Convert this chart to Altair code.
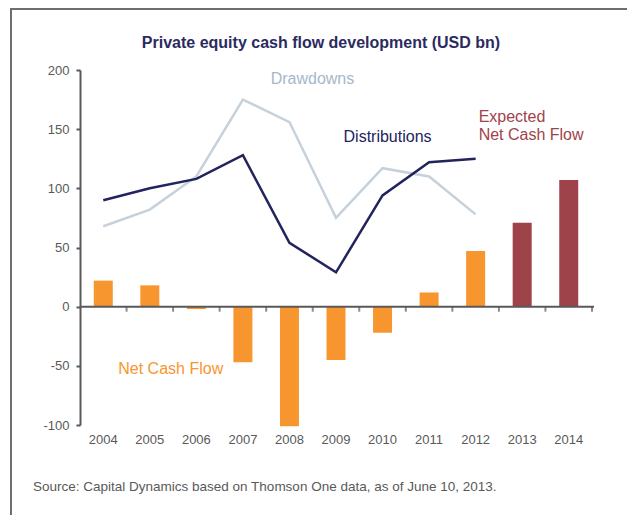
import altair as alt
import pandas as pd

years = ["2004", "2005", "2006", "2007", "2008", "2009", "2010", "2011", "2012", "2013", "2014"]
net_cash_flow = [22, 18, -2, -47, -101, -45, -22, 12, 47, 71, 107]
bar_type = ["Actual", "Actual", "Actual", "Actual", "Actual", "Actual", "Actual", "Actual", "Actual", "Expected", "Expected"]
line_years = ["2004", "2005", "2006", "2007", "2008", "2009", "2010", "2011", "2012"]
distributions = [90, 100, 108, 128, 54, 29, 94, 122, 125]
drawdowns = [68, 82, 110, 175, 156, 75, 117, 110, 78]

TITLE = "Private equity cash flow development (USD bn)"
SOURCE = "Source: Capital Dynamics based on Thomson One data, as of June 10, 2013."

ORANGE = "#F7952F"
MAROON = "#9F434A"
NAVY = "#23235E"
LIGHT = "#C6D1DB"
LIGHT_TXT = "#A6B8C8"
AXIS = "#595959"
FONT = "Liberation Sans"

bars_df = pd.DataFrame({"year": years, "value": net_cash_flow, "type": bar_type})
lines_df = pd.DataFrame({"year": line_years, "Distributions": distributions, "Drawdowns": drawdowns})

W, H = 512, 355

x_enc = alt.X("year:O", scale=alt.Scale(domain=years, paddingInner=0, paddingOuter=0),
              axis=alt.Axis(domain=False, ticks=False, grid=False, labelAngle=0, labelPadding=8,
                            labelFontSize=13, labelColor=AXIS, labelFont=FONT, title=None))
y_scale = alt.Scale(domain=[-100, 200], nice=False, zero=False)
y_enc = alt.Y("value:Q", scale=y_scale,
              axis=alt.Axis(values=[-100, -50, 0, 50, 100, 150, 200], grid=False,
                            labelExpr="replace(datum.label, '\u2212', '-')",
                            domainColor=AXIS, domainWidth=2, tickColor=AXIS, tickWidth=2,
                            tickSize=4, labelFontSize=13, labelColor=AXIS, labelFont=FONT,
                            labelPadding=7, title=None))

bars = alt.Chart(bars_df).mark_bar(size=19).encode(
    x=x_enc, y=y_enc,
    color=alt.Color("type:N", scale=alt.Scale(domain=["Actual", "Expected"], range=[ORANGE, MAROON]), legend=None),
)

zero = alt.Chart(alt.Data(values=[{"v": 0}])).mark_rule(color=AXIS, strokeWidth=2).encode(
    y=alt.Y("v:Q", scale=y_scale), x=alt.value(0), x2=alt.value(W + 2))

tick_df = pd.DataFrame({"year": years[1:], "v": [0] * 10})
ticks = alt.Chart(tick_df).mark_tick(orient="vertical", size=5, thickness=2, yOffset=2.5, color=AXIS).encode(
    x=alt.X("year:O", bandPosition=0), y=alt.Y("v:Q", scale=y_scale))
end_tick = alt.Chart(pd.DataFrame({"year": [years[-1]], "v": [0]})).mark_tick(
    orient="vertical", size=5, thickness=2, yOffset=2.5, color=AXIS).encode(
    x=alt.X("year:O", bandPosition=1), y=alt.Y("v:Q", scale=y_scale))

draw_line = alt.Chart(lines_df).mark_line(color=LIGHT, strokeWidth=2.5).encode(
    x="year:O", y=alt.Y("Drawdowns:Q", scale=y_scale))
dist_line = alt.Chart(lines_df).mark_line(color=NAVY, strokeWidth=2.5).encode(
    x="year:O", y=alt.Y("Distributions:Q", scale=y_scale))


def label(text, year, value, dx, color, align):
    return alt.Chart(alt.Data(values=[{"year": year, "v": value, "t": text}])).mark_text(
        font=FONT, fontSize=16, color=color, align=align, baseline="middle", dx=dx).encode(
        x=alt.X("year:O"), y=alt.Y("v:Q", scale=y_scale), text="t:N")


lab_draw = label("Drawdowns", "2008", 192, 23, LIGHT_TXT, "center")
lab_dist = label("Distributions", "2010", 143, 5, NAVY, "center")
lab_exp1 = label("Expected", "2012", 160, 3, MAROON, "left")
lab_exp2 = label("Net Cash Flow", "2012", 145, 3, MAROON, "left")
lab_ncf = label("Net Cash Flow", "2004", -53, 15, ORANGE, "left")

one = alt.Data(values=[{"a": 1}])
title = alt.Chart(one).mark_text(font=FONT, fontSize=16, fontWeight="bold", color="#2B2B5E",
                                 align="center", baseline="middle").encode(
    x=alt.value(241), y=alt.value(-27), text=alt.value(TITLE))
source = alt.Chart(one).mark_text(font=FONT, fontSize=13.5, color=AXIS, align="left",
                                  baseline="middle").encode(
    x=alt.value(-47), y=alt.value(417), text=alt.value(SOURCE))
border = alt.Chart(one).mark_rect(fillOpacity=0, stroke="#6E6E6E", strokeWidth=2).encode(
    x=alt.value(-69), x2=alt.value(548), y=alt.value(-61), y2=alt.value(480))

chart = alt.layer(
    border, bars, zero, ticks, end_tick, draw_line, dist_line,
    lab_draw, lab_dist, lab_exp1, lab_exp2, lab_ncf, title, source,
).properties(
    width=W, height=H,
    autosize=alt.AutoSizeParams(type="none"),
    padding={"left": 72, "top": 62, "right": 35, "bottom": 90},
).configure(
    background="white",
    view=alt.ViewConfig(stroke="transparent", strokeWidth=0),
    axis=alt.AxisConfig(grid=False),
)

chart.save("out.html", embed_options={"renderer": "svg", "actions": False})
